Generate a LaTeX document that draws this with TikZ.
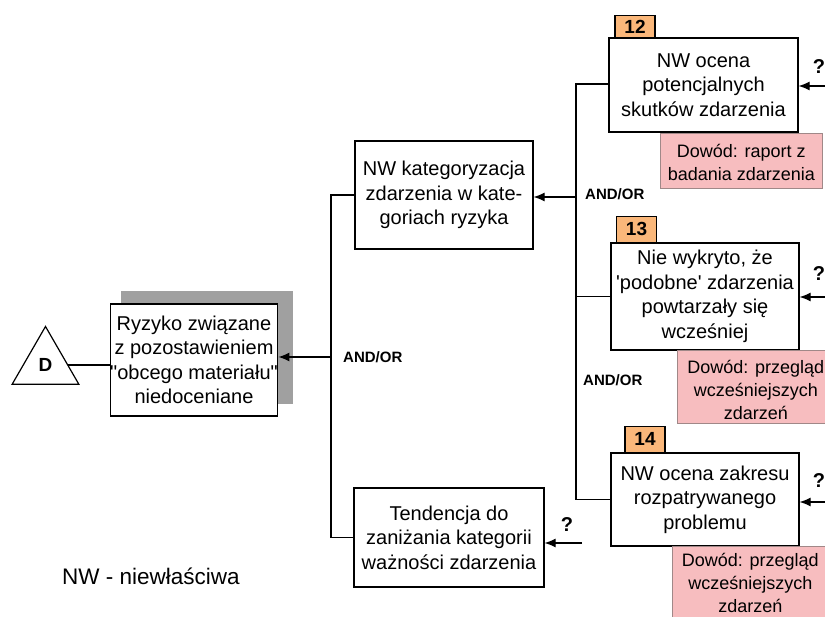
\documentclass[tikz,border=0pt]{standalone}
\usepackage{fontspec}
\setmainfont{Liberation Sans}[Ligatures=TeXOff]
\usetikzlibrary{arrows.meta,shapes.geometric,backgrounds,calc}

\definecolor{shadowgray}{HTML}{A0A0A0}
\definecolor{evidpink}{HTML}{F7BDBF}
\definecolor{evidedge}{HTML}{A08888}
\definecolor{badgeorange}{HTML}{FAB77A}

\newcommand{\boxfont}{\fontsize{20}{24.5}\selectfont}
\newcommand{\evidfont}{\fontsize{18}{23}\selectfont}
\newcommand{\dq}{\symbol{34}}
\newcommand{\sq}{\symbol{39}}

\tikzset{
  x=1pt, y=-1pt,
  faultbox/.style={draw, line width=1.2pt, fill=white, align=center,
    font=\boxfont, inner sep=0pt},
  badge/.style={draw, line width=1.1pt, fill=badgeorange,
    font=\bfseries\fontsize{19}{20}\selectfont, inner sep=0pt,
    minimum width=40, anchor=south},
  evidence/.style={draw=evidedge, line width=0.6pt, fill=evidpink,
    inner sep=0pt, anchor=north west},
  link/.style={line width=1.2pt},
  feed/.style={line width=1.2pt, -{Latex[length=11pt,width=9pt]}},
  gate/.style={font=\bfseries\fontsize{15}{16}\selectfont, anchor=west, inner sep=0pt},
  query/.style={font=\bfseries\fontsize{20}{22}\selectfont, inner sep=0pt},
}

\begin{document}
\begin{tikzpicture}
\useasboundingbox (0,0) rectangle (825,617);

% top event: triangle marker and main box
\node[draw, line width=1.2pt, fill=white, regular polygon, regular polygon sides=3,
      minimum size=77, inner sep=0pt, font=\bfseries\fontsize{19}{20}\selectfont]
      (D) at (45.5,365) {D};
\node[faultbox, minimum width=166, minimum height=112] (main) at (194,360)
  {Ryzyko związane\\z pozostawieniem\\\dq obcego materiału\dq\\niedoceniane};
\begin{pgfonlayer}{background}
  \fill[white] (0,0) rectangle (825,617);
  \fill[shadowgray] ($(main.south west)+(11,-13)$) rectangle ($(main.north east)+(15,-12)$);
\end{pgfonlayer}
\draw[link] (D.east) -- (D.east -| main.west);

% second level
\node[faultbox, minimum width=178, minimum height=108] (kat) at (444,195)
  {NW kategoryzacja\\zdarzenia w kate-\\goriach ryzyka};
\node[faultbox, minimum width=190, minimum height=99] (tend) at (449,537.5)
  {Tendencja do\\zaniżania kategorii\\ważności zdarzenia};

\coordinate (j1) at (331,357);
\draw[link] (kat.west) -- (kat.west -| j1) |- (tend.west);
\draw[feed] (j1) -- (j1 -| main.east);
\node[gate] (g1) at (343,357) {AND/OR};

\coordinate (q0) at (582,543);
\draw[feed] (q0) -- (q0 -| tend.east);
\node[query] (qm0) at (567,525) {?};

% third level
\node[faultbox, minimum width=189, minimum height=94] (b12) at (703.5,85)
  {NW ocena\\potencjalnych\\skutków zdarzenia};
\node[faultbox, minimum width=188, minimum height=107] (b13) at (705,296.5)
  {Nie wykryto, że\\\sq podobne\sq\ zdarzenia\\powtarzały się\\wcześniej};
\node[faultbox, minimum width=188, minimum height=93] (b14) at (705,499.5)
  {NW ocena zakresu\\rozpatrywanego\\problemu};

\node[badge, minimum height=22] (n12) at (635,38) {12};
\node[badge, minimum height=26] (n13) at (636.5,243) {13};
\node[badge, minimum height=26] (n14) at (645,453) {14};

\coordinate (j2) at (576,197);
\draw[link] (b12.west |- 0,84) -| (j2) |- (b14.west);
\draw[link] (b13.west) -- (b13.west -| j2);
\draw[feed] (j2) -- (j2 -| kat.east);
\node[gate] (g2) at (585,194) {AND/OR};
\node[gate] (g3) at (583,380) {AND/OR};

% evidence notes
\node[evidence] (e12) at (660,133)
  {\parbox[t][55pt][t]{162pt}{\centering\evidfont\rule{0pt}{24pt}Dowód: raport z\\badania zdarzenia}};
\node[evidence] (e13) at (677,350)
  {\parbox[t][73pt][t]{157pt}{\centering\evidfont\rule{0pt}{23pt}Dowód: przegląd\\wcześniejszych\\zdarzeń}};
\node[evidence] (e14) at (672,546)
  {\parbox[t][80pt][t]{156pt}{\centering\evidfont\rule{0pt}{20pt}Dowód: przegląd\\wcześniejszych\\zdarzeń}};

% undeveloped inputs
\coordinate (q12) at (830,86);
\coordinate (q13) at (830,297);
\coordinate (q14) at (830,502);
\draw[feed] (q12) -- (q12 -| b12.east);
\draw[feed] (q13) -- (q13 -| b13.east);
\draw[feed] (q14) -- (q14 -| b14.east);
\node[query] (qm12) at (819,67) {?};
\node[query] (qm13) at (819,274) {?};
\node[query] (qm14) at (819,481) {?};

% legend
\node[font=\fontsize{22.5}{24}\selectfont, anchor=west, inner sep=0pt] (leg) at (62,576)
  {NW - niewłaściwa};
\end{tikzpicture}
\end{document}
